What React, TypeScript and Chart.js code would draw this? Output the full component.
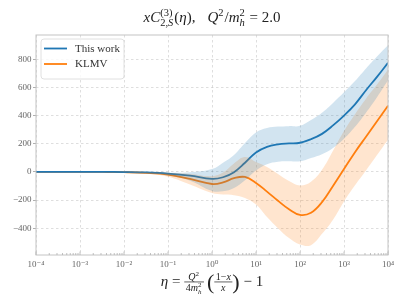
import React, { useEffect, useRef } from 'react';
import { Chart, registerables } from 'chart.js';
Chart.register(...registerables);

const logEta = [-4, -3.5, -3, -2.5, -2, -1.5, -1, -0.5, 0, 0.25, 0.5, 0.75, 1, 1.25, 1.5, 1.75, 2, 2.25, 2.5, 2.75, 3, 3.25, 3.5, 3.75, 4];
const thisWork = [0, 0, 0, 0, -1, -4, -12, -27, -50, -38, -2, 65, 138, 178, 195, 202, 207, 232, 270, 330, 400, 480, 580, 675, 775];
const thisWorkLo = [0, 0, 0, -1, -3, -10, -26, -62, -135, -138, -115, -60, 10, 55, 72, 75, 75, 98, 125, 170, 235, 320, 420, 530, 650];
const thisWorkHi = [0, 0, 0, 0, 0, -1, -6, -3, 20, 65, 120, 205, 280, 312, 322, 325, 327, 368, 420, 490, 565, 645, 735, 820, 900];
const klmv = [0, 0, 0, -0.5, -2, -7, -19, -50, -86, -75, -45, -36, -78, -140, -205, -265, -305, -290, -215, -100, 20, 140, 250, 360, 470];
const klmvLo = [0, 0, 0, -1, -4, -14, -35, -90, -150, -160, -165, -185, -232, -320, -400, -470, -516, -520, -440, -340, -210, -95, 10, 120, 229];
const klmvHi = [0, 0, 0, 0, 0, -1, -6, -15, -30, -5, 60, 105, 70, 35, -15, -65, -97, -70, 15, 150, 290, 410, 520, 620, 726];
const yTicks = [-400, -200, 0, 200, 400, 600, 800];
const xTickExps = [-4, -3, -2, -1, 0, 1, 2, 3, 4];
const seriesNames = ['This work', 'KLMV'];

const BLUE = '#1f77b4';
const ORANGE = '#ff7f0e';
const FONT = '"Liberation Serif", "DejaVu Serif", serif';

const SUP: Record<string, string> = { '-': '\u207b', '0': '\u2070', '1': '\u00b9', '2': '\u00b2', '3': '\u00b3', '4': '\u2074', '5': '\u2075', '6': '\u2076', '7': '\u2077', '8': '\u2078', '9': '\u2079' };
const supStr = (s: string) => s.split('').map((c) => SUP[c] || c).join('');

const pts = (ys: number[]) => logEta.map((l, i) => ({ x: Math.pow(10, l), y: ys[i] }));

type N =
  | { k: 't'; t: string; it?: boolean; s: number }
  | { k: 'ss'; sup: N[]; sub: N[]; s: number }
  | { k: 'fr'; num: N[]; den: N[]; s: number }
  | { k: 'sp'; w: number }
  | { k: 'par'; t: string; s: number; dy: number };

const fnt = (it: boolean | undefined, s: number) => `${it ? 'italic ' : ''}${s}px ${FONT}`;

function meas(ctx: CanvasRenderingContext2D, ns: N[]): number {
  let w = 0;
  for (const n of ns) {
    if (n.k === 't') { ctx.font = fnt(n.it, n.s); w += ctx.measureText(n.t).width; }
    else if (n.k === 'ss') w += Math.max(meas(ctx, n.sup), meas(ctx, n.sub)) + 1;
    else if (n.k === 'fr') w += Math.max(meas(ctx, n.num), meas(ctx, n.den)) + 3;
    else if (n.k === 'sp') w += n.w;
    else if (n.k === 'par') { ctx.font = fnt(false, n.s); w += ctx.measureText(n.t).width; }
  }
  return w;
}

function draw(ctx: CanvasRenderingContext2D, ns: N[], x: number, y: number): number {
  for (const n of ns) {
    if (n.k === 't') { ctx.font = fnt(n.it, n.s); ctx.fillText(n.t, x, y); x += ctx.measureText(n.t).width; }
    else if (n.k === 'ss') {
      draw(ctx, n.sup, x, y - n.s * 0.42);
      draw(ctx, n.sub, x, y + n.s * 0.28);
      x += Math.max(meas(ctx, n.sup), meas(ctx, n.sub)) + 1;
    } else if (n.k === 'fr') {
      const wn = meas(ctx, n.num), wd = meas(ctx, n.den);
      const w = Math.max(wn, wd) + 3;
      const by = y - n.s * 0.27;
      ctx.fillRect(x, by - 0.35, w, 0.7);
      draw(ctx, n.num, x + (w - wn) / 2, by - 2.2);
      draw(ctx, n.den, x + (w - wd) / 2, by + n.s * 0.62);
      x += w;
    } else if (n.k === 'sp') x += n.w;
    else if (n.k === 'par') { ctx.font = fnt(false, n.s); ctx.fillText(n.t, x, y + n.dy); x += ctx.measureText(n.t).width; }
  }
  return x;
}

const T = 15;
const TS = 10.5;
const titleNodes: N[] = [
  { k: 't', t: 'xC', it: true, s: T },
  { k: 'ss', s: T, sup: [{ k: 't', t: '(3)', s: TS }], sub: [{ k: 't', t: '2,', s: TS }, { k: 't', t: 'S', it: true, s: TS }] },
  { k: 't', t: '(', s: T },
  { k: 't', t: 'η', it: true, s: T },
  { k: 't', t: '),', s: T },
  { k: 'sp', w: 12 },
  { k: 't', t: 'Q', it: true, s: T },
  { k: 'ss', s: T, sup: [{ k: 't', t: '2', s: TS }], sub: [] },
  { k: 't', t: '/', s: T },
  { k: 't', t: 'm', it: true, s: T },
  { k: 'ss', s: T, sup: [{ k: 't', t: '2', s: TS }], sub: [{ k: 't', t: 'h', it: true, s: TS }] },
  { k: 't', t: ' = 2.0', s: T },
];

const L = 15;
const F = 10;
const xlabelNodes: N[] = [
  { k: 't', t: 'η', it: true, s: L },
  { k: 't', t: ' = ', s: L },
  {
    k: 'fr', s: L,
    num: [{ k: 't', t: 'Q', it: true, s: F }, { k: 'ss', s: F, sup: [{ k: 't', t: '2', s: 7 }], sub: [] }],
    den: [{ k: 't', t: '4', s: F }, { k: 't', t: 'm', it: true, s: F }, { k: 'ss', s: F, sup: [{ k: 't', t: '2', s: 7 }], sub: [{ k: 't', t: 'h', it: true, s: 7 }] }],
  },
  { k: 'sp', w: 3 },
  { k: 'par', t: '(', s: 22, dy: 3 },
  {
    k: 'fr', s: L,
    num: [{ k: 't', t: '1\u2212', s: F }, { k: 't', t: 'x', it: true, s: F }],
    den: [{ k: 't', t: 'x', it: true, s: F }],
  },
  { k: 'par', t: ')', s: 22, dy: 3 },
  { k: 't', t: ' \u2212 1', s: L },
];

const decor = {
  id: 'decor',
  afterDraw(chart: any) {
    const ctx: CanvasRenderingContext2D = chart.ctx;
    const a = chart.chartArea;
    const xs = chart.scales.x;
    ctx.save();
    ctx.strokeStyle = '#c4c4c4';
    ctx.lineWidth = 1;
    ctx.strokeRect(a.left, a.top, a.right - a.left, a.bottom - a.top);
    ctx.strokeStyle = '#b0b0b0';
    ctx.lineWidth = 0.8;
    for (let e = -4; e <= 4; e++) {
      for (let m = 1; m <= 9; m++) {
        const v = m * Math.pow(10, e);
        if (v > 1e4 + 1) break;
        const px = xs.getPixelForValue(v);
        const len = m === 1 ? 3.5 : 2;
        ctx.beginPath();
        ctx.moveTo(px, a.bottom);
        ctx.lineTo(px, a.bottom - len);
        ctx.stroke();
      }
    }
    const lx = 41, ly = 39, lw = 83, lh = 40, r = 3;
    ctx.beginPath();
    ctx.moveTo(lx + r, ly);
    ctx.arcTo(lx + lw, ly, lx + lw, ly + lh, r);
    ctx.arcTo(lx + lw, ly + lh, lx, ly + lh, r);
    ctx.arcTo(lx, ly + lh, lx, ly, r);
    ctx.arcTo(lx, ly, lx + lw, ly, r);
    ctx.closePath();
    ctx.fillStyle = 'rgba(255,255,255,0.8)';
    ctx.fill();
    ctx.strokeStyle = '#e0e0e0';
    ctx.lineWidth = 1;
    ctx.stroke();
    const cols = [BLUE, ORANGE];
    seriesNames.forEach((name, i) => {
      const yy = 48.5 + i * 15.5;
      ctx.strokeStyle = cols[i];
      ctx.lineWidth = 1.8;
      ctx.beginPath();
      ctx.moveTo(44, yy);
      ctx.lineTo(67, yy);
      ctx.stroke();
      ctx.fillStyle = '#333';
      ctx.font = `11px ${FONT}`;
      ctx.textBaseline = 'middle';
      ctx.fillText(name, 75, yy + 0.5);
    });
    ctx.textBaseline = 'alphabetic';
    ctx.fillStyle = '#222';
    const cx = (a.left + a.right) / 2;
    const tw = meas(ctx, titleNodes);
    draw(ctx, titleNodes, cx - tw / 2, 22);
    const xw = meas(ctx, xlabelNodes);
    draw(ctx, xlabelNodes, cx - xw / 2, 286);
    ctx.restore();
  },
};

export default function App() {
  const ref = useRef<HTMLCanvasElement>(null);
  useEffect(() => {
    document.body.style.margin = '0';
    const bandCommon = { pointRadius: 0, borderWidth: 0, tension: 0.4 };
    const chart = new Chart(ref.current!, {
      type: 'line',
      data: {
        datasets: [
          { label: 'bLo', data: pts(thisWorkLo), fill: false, ...bandCommon, borderColor: 'transparent' },
          { label: 'bHi', data: pts(thisWorkHi), fill: '-1', backgroundColor: 'rgba(31,119,180,0.2)', ...bandCommon, borderColor: 'transparent' },
          { label: 'oLo', data: pts(klmvLo), fill: false, ...bandCommon, borderColor: 'transparent' },
          { label: 'oHi', data: pts(klmvHi), fill: '-1', backgroundColor: 'rgba(255,127,14,0.2)', ...bandCommon, borderColor: 'transparent' },
          { label: seriesNames[0], data: pts(thisWork), borderColor: BLUE, borderWidth: 1.8, pointRadius: 0, fill: false, tension: 0.4 },
          { label: seriesNames[1], data: pts(klmv), borderColor: ORANGE, borderWidth: 1.8, pointRadius: 0, fill: false, tension: 0.4 },
        ],
      },
      options: {
        responsive: false,
        maintainAspectRatio: false,
        animation: false,
        layout: { padding: { left: 0, right: 19, top: 35, bottom: 0 } },
        plugins: { legend: { display: false }, tooltip: { enabled: false }, title: { display: false } },
        scales: {
          x: {
            type: 'logarithmic',
            min: 1e-4,
            max: 1e4,
            afterBuildTicks: (ax: any) => { ax.ticks = xTickExps.map((e) => ({ value: Math.pow(10, e) })); },
            afterFit: (s: any) => { s.height = 50; },
            grid: { color: 'rgba(0,0,0,0.13)', drawTicks: false },
            border: { display: false, dash: [2.5, 2.5] },
            ticks: {
              autoSkip: false,
              maxRotation: 0,
              padding: 4,
              color: '#666',
              font: { family: FONT, size: 9 },
              callback: (v: any) => '10' + supStr(String(Math.round(Math.log10(Number(v))))),
            },
          },
          y: {
            type: 'linear',
            min: -590,
            max: 972,
            afterBuildTicks: (ax: any) => { ax.ticks = yTicks.map((v) => ({ value: v })); },
            afterFit: (s: any) => { s.width = 36; },
            grid: { color: 'rgba(0,0,0,0.13)', drawTicks: true, tickLength: 3, tickColor: '#b0b0b0', tickBorderDash: [] },
            border: { display: false, dash: [2.5, 2.5] },
            ticks: {
              padding: 1.5,
              color: '#666',
              font: { family: FONT, size: 9 },
              callback: (v: any) => (Number(v) < 0 ? '\u2212' + Math.abs(Number(v)) : String(v)),
            },
          },
        },
      },
      plugins: [decor],
    } as any);
    return () => chart.destroy();
  }, []);
  return (
    <div style={{ width: 407, height: 305, background: '#fff' }}>
      <canvas ref={ref} width={407} height={305} style={{ display: 'block' }} />
    </div>
  );
}
